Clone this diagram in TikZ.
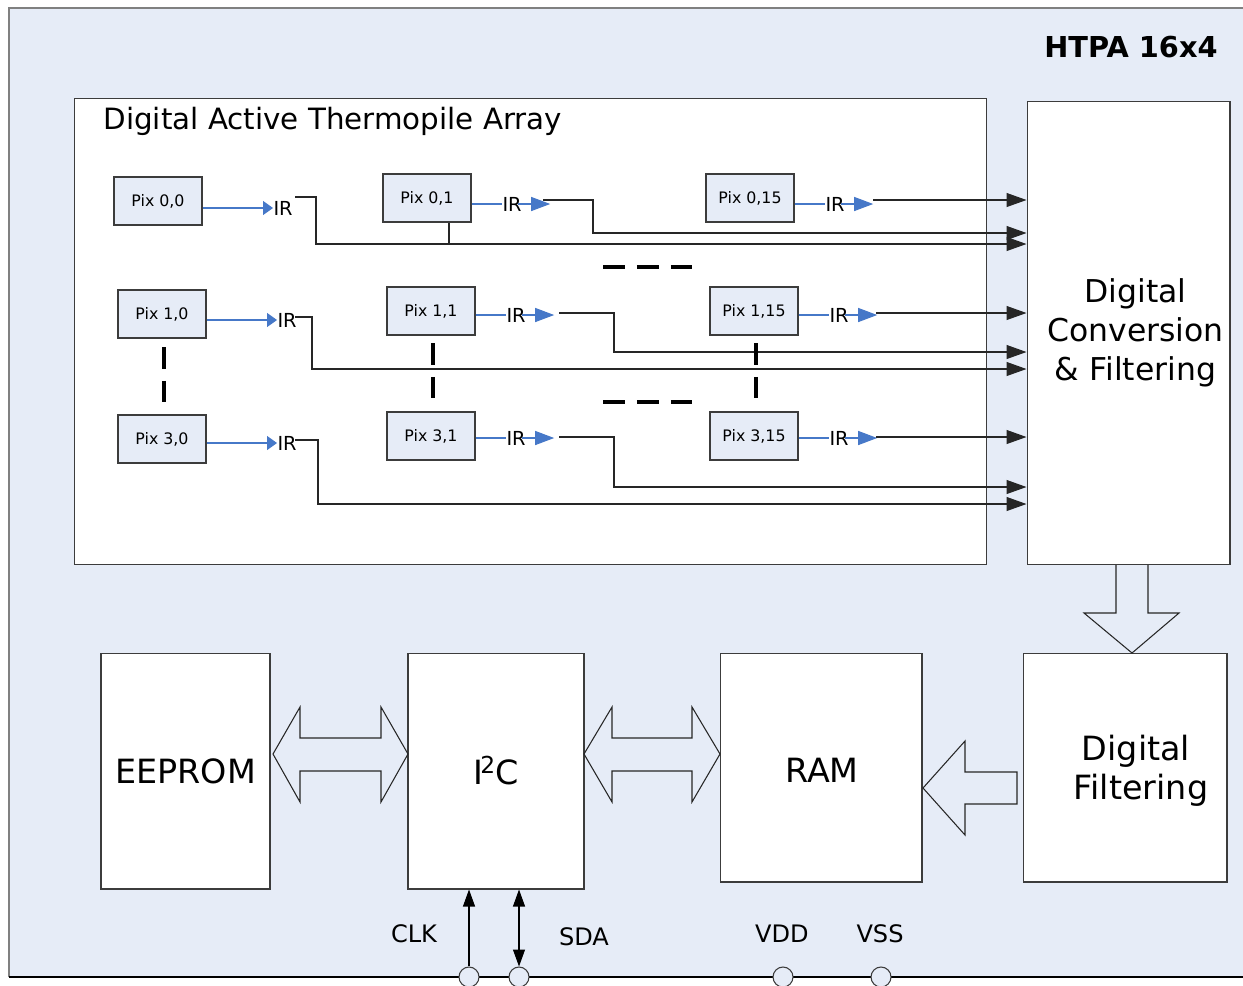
\documentclass[tikz,border=0pt]{standalone}
\usepackage{fontspec}
\setmainfont{DejaVu Sans}
\usetikzlibrary{arrows.meta}
\definecolor{chipbg}{RGB}{230,236,247}
\definecolor{irblue}{RGB}{70,120,200}
\definecolor{edge}{RGB}{60,60,60}

\begin{document}
\begin{tikzpicture}[x=0.02cm, y=-0.02cm, line width=0.6pt,
	pix/.style={draw=edge, fill=chipbg, minimum width=1.76cm, minimum height=0.96cm, font=\fontsize{9}{10}\selectfont},
	irlbl/.style={inner sep=0pt, anchor=west, font=\fontsize{11}{12}\selectfont},
	irwire/.style={draw=irblue},
	irtip/.style={irblue, -{Triangle[length=0.38cm,width=0.28cm]}},
	irtipshort/.style={irblue, -{Triangle[length=0.2cm,width=0.28cm]}},
	sig/.style={draw=black!85, -{Triangle[length=0.4cm,width=0.28cm]}},
	block/.style={draw=edge, fill=white},
	bigtxt/.style={font=\fontsize{19}{22.1}\selectfont},
	gap/.style={line width=2.3pt, dash pattern=on 12.5pt off 6.8pt},
	hollow/.style={draw=black!85, line join=miter},
	pin/.style={circle, draw=edge, fill=chipbg, minimum size=0.4cm, inner sep=0pt},
	pinlbl/.style={font=\fontsize{13.7}{15}\selectfont},
	pinarrow/.style={-{Triangle[length=0.34cm,width=0.24cm]}},
	pinboth/.style={{Triangle[length=0.34cm,width=0.24cm]}-{Triangle[length=0.34cm,width=0.24cm]}}]

	\useasboundingbox (0,0) rectangle (1243,985);

	% Chip outline
	\fill[chipbg] (9,8) rectangle (1260,977);
	\draw[gray] (1260,8) -- (9,8) -- (9,977);
	\draw[black] (9,977) -- (1260,977);
	\node[font=\bfseries\fontsize{16.4}{18}\selectfont] (chipname) at (1131,47) {HTPA 16x4};

	% Blocks
	\node[block, minimum width=18.26cm, minimum height=9.34cm] (array) at (530.5,331.5) {};
	\node[anchor=west, inner sep=0pt, font=\fontsize{16.7}{18}\selectfont] (arraytitle) at (103,121) {Digital Active Thermopile Array};
	\node[block, minimum width=4.06cm, minimum height=9.28cm, align=center, font=\fontsize{17.9}{22.1}\selectfont] (conv) at (1128.5,333) {\hspace*{0.28cm}Digital\\\hspace*{0.28cm}Conversion\\\hspace*{0.28cm}\& Filtering};
	\node[block, bigtxt, minimum width=3.38cm, minimum height=4.72cm] (eeprom) at (185.5,771) {EEPROM};
	\node[block, bigtxt, minimum width=3.52cm, minimum height=4.72cm] (i2c) at (496,771) {I\kern-1.8pt\textsuperscript{2}\kern-0.5pt C};
	\node[block, minimum width=4.04cm, minimum height=4.58cm] (ram) at (821,767.5) {};
	\node[bigtxt] (ramtxt) at (822,770) {RAM};
	\node[block, minimum width=4.08cm, minimum height=4.58cm] (filt) at (1125,767.5) {};
	\node[bigtxt, align=center] (filttxt) at (1141,771) {\hspace*{-0.2cm}Digital\\Filtering};

	% Pixels {row,column}
	\node[pix] (p00)  at (158,201) {Pix 0,0};
	\node[pix] (p01)  at (427,198) {Pix 0,1};
	\node[pix] (p015) at (750,198) {Pix 0,15};
	\node[pix] (p10)  at (162,314) {Pix 1,0};
	\node[pix] (p11)  at (431,311) {Pix 1,1};
	\node[pix] (p115) at (754,311) {Pix 1,15};
	\node[pix] (p30)  at (162,439) {Pix 3,0};
	\node[pix] (p31)  at (431,436) {Pix 3,1};
	\node[pix] (p315) at (754,436) {Pix 3,15};

	% IR outputs
	\node[irlbl] (ir00)  at (273,208) {IR};
	\node[irlbl] (ir01)  at (502,204) {IR};
	\node[irlbl] (ir015) at (825,204) {IR};
	\node[irlbl] (ir10)  at (277,320) {IR};
	\node[irlbl] (ir11)  at (506,315) {IR};
	\node[irlbl] (ir115) at (829,315) {IR};
	\node[irlbl] (ir30)  at (277,443) {IR};
	\node[irlbl] (ir31)  at (506,438) {IR};
	\node[irlbl] (ir315) at (829,438) {IR};

	\draw[irtipshort] (p00.east |- ir00.west) -- (ir00.west);
	\draw[irtipshort] (p10.east |- ir10.west) -- (ir10.west);
	\draw[irtipshort] (p30.east |- ir30.west) -- (ir30.west);
	\draw[irwire] (p01.east |- ir01.west) -- (ir01.west);
	\draw[irwire] (p11.east |- ir11.west) -- (ir11.west);
	\draw[irwire] (p31.east |- ir31.west) -- (ir31.west);
	\draw[irwire] (p015.east |- ir015.west) -- (ir015.west);
	\draw[irwire] (p115.east |- ir115.west) -- (ir115.west);
	\draw[irwire] (p315.east |- ir315.west) -- (ir315.west);
	\draw[irtip] (ir01.east) ++(-4,0) -- ++(32,0);
	\draw[irtip] (ir11.east) ++(-4,0) -- ++(32,0);
	\draw[irtip] (ir31.east) ++(-4,0) -- ++(32,0);
	\draw[irtip] (ir015.east) ++(-4,0) -- ++(32,0);
	\draw[irtip] (ir115.east) ++(-4,0) -- ++(32,0);
	\draw[irtip] (ir315.east) ++(-4,0) -- ++(32,0);

	% Signal lines to conversion
	\coordinate (b00) at (295,197);
	\coordinate (b01) at (543,200);
	\coordinate (b015) at (873,200);
	\coordinate (b10) at (295,317);
	\coordinate (b11) at (559,313);
	\coordinate (b115) at (876,313);
	\coordinate (b30) at (295,440);
	\coordinate (b31) at (559,437);
	\coordinate (b315) at (876,437);

	\draw[sig] (b015) -- (conv.west |- b015);
	\draw[sig] (b01) -- (593,200) |- (conv.west |- 0,233);
	\draw[sig] (b00) -- (316,197) |- (conv.west |- 0,244);
	\draw[draw=black!85] (p01.south) ++(22,0) -- ++(0,22);
	\draw[sig] (b115) -- (conv.west |- b115);
	\draw[sig] (b11) -- (614,313) |- (conv.west |- 0,352);
	\draw[sig] (b10) -- (312,317) |- (conv.west |- 0,369);
	\draw[sig] (b315) -- (conv.west |- b315);
	\draw[sig] (b31) -- (614,437) |- (conv.west |- 0,487);
	\draw[sig] (b30) -- (318,440) |- (conv.west |- 0,504);

	% Omitted rows and columns
	\draw[gap] (164,347) -- (164,402);
	\draw[gap] (433,343) -- (433,398);
	\draw[gap] (756,343) -- (756,398);
	\draw[gap] (603,267) -- (692,267);
	\draw[gap] (603,402) -- (692,402);

	% Bus arrows
	\draw[hollow] (1116,565) -- (1116,613) -- (1084,613) -- (1132,653) -- (1179,613) -- (1148,613) -- (1148,565);
	\draw[hollow] (923,788) -- (965,741) -- (965,772) -- (1017,772) -- (1017,804) -- (965,804) -- (965,835) -- cycle;
	\draw[hollow] (273,754) -- (300,707) -- (300,738) -- (381,738) -- (381,707) -- (408,754) -- (381,802) -- (381,771) -- (300,771) -- (300,802) -- cycle;
	\draw[hollow] (584,754) -- (612,707) -- (612,738) -- (692,738) -- (692,707) -- (720,754) -- (692,802) -- (692,771) -- (612,771) -- (612,802) -- cycle;

	% Pins
	\node[pin] (clkpin) at (469,977) {};
	\node[pin] (sdapin) at (519,977) {};
	\node[pin] (vddpin) at (783,977) {};
	\node[pin] (vsspin) at (881,977) {};
	\node[pinlbl] (clk) at (414,934) {CLK};
	\node[pinlbl] (sda) at (584,937) {SDA};
	\node[pinlbl] (vdd) at (782,934) {VDD};
	\node[pinlbl] (vss) at (880,934) {VSS};

	\draw[pinarrow] (clkpin.north) -- (clkpin.north |- i2c.south);
	\draw[pinboth] (sdapin.north) -- (sdapin.north |- i2c.south);

\end{tikzpicture}
\end{document}
